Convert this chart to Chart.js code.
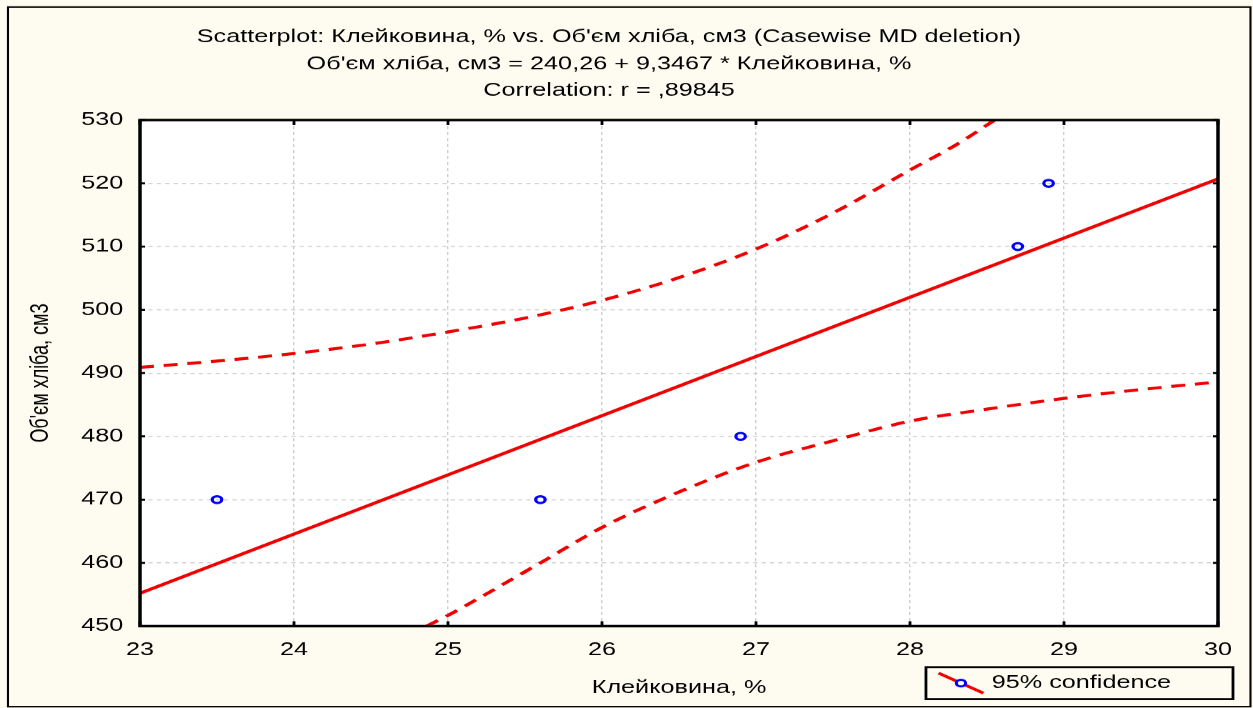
<!DOCTYPE html>
<html>
<head>
<meta charset="utf-8">
<title>Scatterplot: Клейковина, % vs. Об'єм хліба, см3</title>
<script src="https://cdn.jsdelivr.net/npm/chart.js@4.4.0/dist/chart.umd.min.js"></script>
<style>
  html, body { margin: 0; padding: 0; background: #fefcf0; overflow: hidden; }
  /* the source picture is stretched sideways, so the chart is drawn narrow and widened */
  #chart { transform: scaleX(1.4); transform-origin: 0 0; }
</style>
</head>
<body>
<canvas id="chart" width="895" height="708"></canvas>
<script>
// Data
const xTicks = [23, 24, 25, 26, 27, 28, 29, 30]
const yTicks = [450, 460, 470, 480, 490, 500, 510, 520, 530]

const gluten = [23.5, 25.6, 26.9, 28.7, 28.9]   // Клейковина, %
const volume = [470, 470, 480, 510, 520]        // Об'єм хліба, см3

// regression line ends
const fitX = [23, 30]
const fitY = [455.2, 520.7]

// 95% confidence bands (clipped where they leave the plot)
const upperX = [23, 23.5, 24, 24.5, 25, 25.5, 26, 26.5, 27, 27.5, 28, 28.3, 28.55]
const upperY = [490.9, 491.9, 493.1, 494.6, 496.5, 498.7, 501.5, 505.1, 509.6, 515.3, 522.1, 526.1, 530]
const lowerX = [24.86, 25, 25.3, 25.6, 26, 26.5, 27, 27.5, 28, 28.5, 29, 29.5, 30]
const lowerY = [450, 451.7, 455.8, 460.0, 465.6, 471.2, 475.9, 479.3, 482.4, 484.3, 486.0, 487.4, 488.6]

const pairs = (xs, ys) => xs.map((x, i) => ({ x: x, y: ys[i] }))

const RED = '#f00000'
const BLUE = '#0000ff'

Chart.defaults.font.family = "'Liberation Sans', Arial, sans-serif"
Chart.defaults.font.size = 18
Chart.defaults.color = '#000000'

const framePlugin = {
  id: 'frame',
  beforeDraw(chart) {
    const { ctx, width, height, chartArea: a } = chart
    ctx.save()
    ctx.fillStyle = '#fefcf0'
    ctx.fillRect(0, 0, width, height)
    ctx.fillStyle = '#ffffff'
    ctx.fillRect(a.left, a.top, a.right - a.left, a.bottom - a.top)
    ctx.strokeStyle = '#000000'
    ctx.lineWidth = 1.5
    ctx.strokeRect(5.7, 7, width - 7.5, height - 8.5)
    ctx.restore()
  },
  afterLayout(chart) {
    // park the legend in the lower right corner, next to the x axis title
    const a = chart.chartArea
    const lg = chart.legend
    lg.left = a.right - 196.6
    lg.top = a.bottom + 48
    lg.right = lg.left + 210
    lg.bottom = lg.top + 26
    lg.width = lg.right - lg.left
    lg.height = lg.bottom - lg.top
  },
  afterDatasetsDraw(chart) {
    const { ctx, chartArea: a, scales } = chart
    ctx.save()
    ctx.strokeStyle = '#000000'
    ctx.lineWidth = 2
    ctx.beginPath()
    scales.x.ticks.forEach(t => {
      const px = scales.x.getPixelForValue(t.value)
      ctx.moveTo(px, a.top); ctx.lineTo(px, a.top + 5)
      ctx.moveTo(px, a.bottom); ctx.lineTo(px, a.bottom - 5)
    })
    scales.y.ticks.forEach(t => {
      const py = scales.y.getPixelForValue(t.value)
      ctx.moveTo(a.left, py); ctx.lineTo(a.left + 3.6, py)
      ctx.moveTo(a.right, py); ctx.lineTo(a.right - 3.6, py)
    })
    ctx.stroke()
    ctx.lineWidth = 2.5
    ctx.strokeRect(a.left, a.top, a.right - a.left, a.bottom - a.top)
    ctx.restore()
  },
  afterDraw(chart) {
    const { ctx } = chart
    const lg = chart.legend
    ctx.save()
    ctx.strokeStyle = '#000000'
    ctx.lineWidth = 2
    ctx.strokeRect(lg.left - 12, lg.top - 7, 219.3, 32)
    // legend sample: red line with a blue circle
    const cx = lg.left + 13
    const cy = lg.top + 9
    ctx.strokeStyle = RED
    ctx.lineWidth = 2.8
    ctx.beginPath()
    ctx.moveTo(cx - 16, cy - 10)
    ctx.lineTo(cx + 16, cy + 10)
    ctx.stroke()
    ctx.fillStyle = '#fefcf0'
    ctx.strokeStyle = BLUE
    ctx.lineWidth = 2.2
    ctx.beginPath()
    ctx.arc(cx, cy, 3.3, 0, Math.PI * 2)
    ctx.fill()
    ctx.stroke()
    ctx.restore()
  }
}

const ctx = document.getElementById('chart')
new Chart(ctx, {
  type: 'scatter',
  data: {
    datasets: [
      {
        label: "Об'єм хліба, см3",
        data: pairs(gluten, volume),
        showLine: false,
        pointRadius: 3.4,
        pointBorderWidth: 2.3,
        borderColor: BLUE,
        backgroundColor: 'rgba(0, 0, 0, 0)'
      },
      {
        label: 'Regression',
        data: pairs(fitX, fitY),
        showLine: true,
        borderColor: RED,
        borderWidth: 3,
        pointRadius: 0
      },
      {
        label: '95% confidence',
        data: pairs(upperX, upperY),
        showLine: true,
        cubicInterpolationMode: 'monotone',
        borderColor: RED,
        borderWidth: 3,
        borderDash: [10, 7],
        pointRadius: 0
      },
      {
        label: '95% confidence (lower)',
        data: pairs(lowerX, lowerY),
        showLine: true,
        cubicInterpolationMode: 'monotone',
        borderColor: RED,
        borderWidth: 3,
        borderDash: [10, 7],
        pointRadius: 0
      }
    ]
  },
  options: {
    responsive: false,
    animation: false,
    devicePixelRatio: 1.4,
    layout: { padding: { left: 0, right: 25, top: 0, bottom: 0 } },
    plugins: {
      title: {
        display: true,
        text: [
          "Scatterplot: Клейковина, % vs. Об'єм хліба, см3 (Casewise MD deletion)",
          "Об'єм хліба, см3 = 240,26 + 9,3467 * Клейковина, %",
          'Correlation: r = ,89845'
        ],
        color: '#000000',
        font: { size: 18, weight: 'normal', lineHeight: 1.5 },
        padding: { top: 23.5, bottom: 15.5 }
      },
      legend: {
        position: 'chartArea',
        align: 'start',
        labels: {
          usePointStyle: true,
          pointStyleWidth: 26,
          padding: 0,
          color: '#000000',
          font: { size: 18 },
          generateLabels: () => [{
            text: '95% confidence',
            fillStyle: 'rgba(0, 0, 0, 0)',
            strokeStyle: 'rgba(0, 0, 0, 0)',
            lineWidth: 0,
            pointStyle: 'line',
            hidden: false,
            datasetIndex: 2,
            fontColor: '#000000'
          }]
        }
      },
      tooltip: { enabled: false }
    },
    scales: {
      x: {
        type: 'linear',
        min: xTicks[0],
        max: xTicks[xTicks.length - 1],
        afterBuildTicks: s => { s.ticks = xTicks.map(v => ({ value: v })) },
        afterFit: s => { s.height = 82 },
        grid: { color: '#cccccc', lineWidth: 1, drawTicks: false },
        border: { display: false, dash: [3, 3] },
        ticks: { padding: 13, color: '#000000', font: { size: 18 } },
        title: {
          display: true,
          text: 'Клейковина, %',
          color: '#000000',
          font: { size: 18 },
          padding: { top: 0, bottom: 9 }
        }
      },
      y: {
        type: 'linear',
        min: yTicks[0],
        max: yTicks[yTicks.length - 1],
        afterBuildTicks: s => { s.ticks = yTicks.map(v => ({ value: v })) },
        afterFit: s => { s.width = 100 },
        grid: { color: '#cccccc', lineWidth: 1, drawTicks: false },
        border: { display: false, dash: [3, 3] },
        ticks: { padding: 12, color: '#000000', font: { size: 18 } },
        title: {
          display: true,
          text: "Об'єм хліба, см3",
          color: '#000000',
          font: { size: 18 },
          padding: { top: 18.5, bottom: 0 }
        }
      }
    }
  },
  plugins: [framePlugin]
})
</script>
</body>
</html>
